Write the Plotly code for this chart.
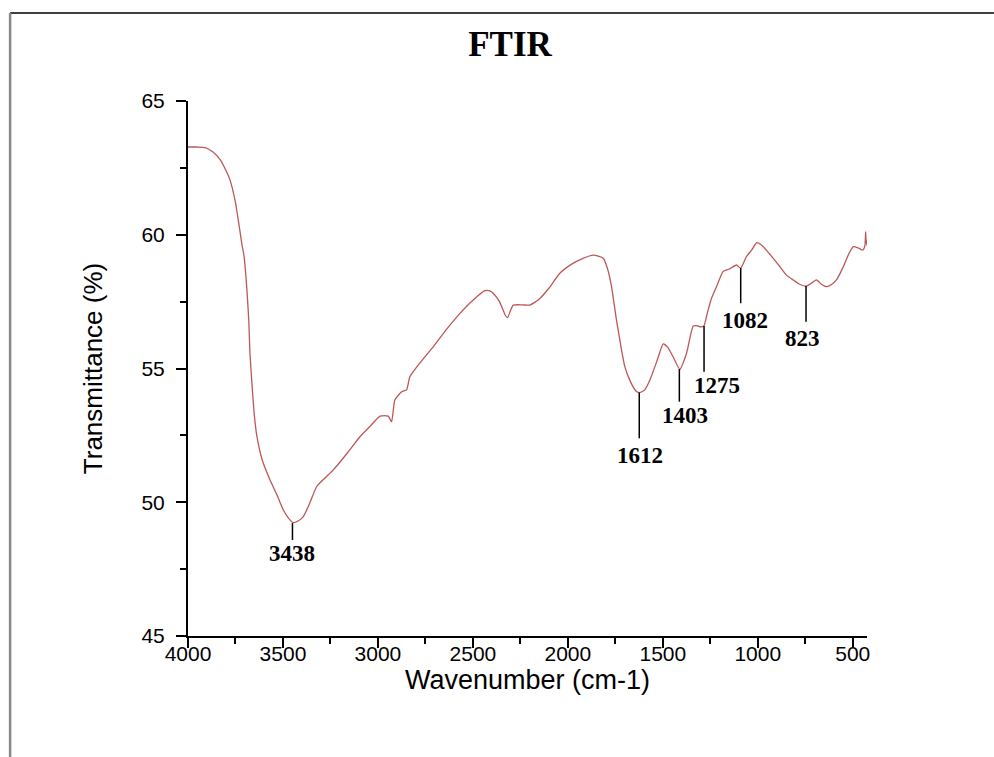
import plotly.graph_objects as go

# ---- data ----
wavenumber = [4000, 3950, 3910, 3870, 3830, 3800, 3779, 3750, 3730, 3717, 3705, 3691, 3680, 3674,
              3660, 3650, 3638, 3610, 3568, 3530, 3498, 3470, 3446, 3420, 3393, 3360, 3323, 3280,
              3235, 3160, 3095, 3040, 2989, 2946, 2928, 2911, 2875, 2849, 2832, 2780, 2709, 2640,
              2568, 2500, 2437, 2410, 2393, 2360, 2330, 2318, 2300, 2288, 2240, 2200, 2150, 2100,
              2042, 1980, 1920, 1867, 1840, 1814, 1790, 1770, 1744, 1720, 1700, 1670, 1640, 1621,
              1595, 1568, 1530, 1498, 1475, 1446, 1411, 1375, 1340, 1320, 1305, 1284, 1265, 1244,
              1215, 1183, 1150, 1112, 1091, 1060, 1030, 1007, 981, 940, 884, 850, 814, 780, 744,
              715, 691, 665, 638, 610, 586, 550, 520, 498, 470, 446, 436, 432, 430, 428, 425]
transmittance = [63.28, 63.28, 63.26, 63.1, 62.8, 62.4, 62.05, 61.2, 60.3, 59.68, 59.2, 58.06, 56.8, 55.58,
                 54.1, 53.2, 52.5, 51.6, 50.83, 50.25, 49.71, 49.4, 49.24, 49.3, 49.46, 49.95, 50.58, 50.9,
                 51.21, 51.85, 52.45, 52.85, 53.22, 53.22, 53.01, 53.82, 54.13, 54.2, 54.69, 55.2, 55.81, 56.45,
                 57.06, 57.55, 57.91, 57.9, 57.81, 57.5, 57.0, 56.9, 57.2, 57.37, 57.38, 57.37, 57.6, 58.0,
                 58.56, 58.9, 59.12, 59.24, 59.2, 59.12, 58.7, 58.06, 56.81, 55.8, 55.07, 54.5, 54.15, 54.1,
                 54.2, 54.57, 55.3, 55.92, 55.8, 55.44, 54.97, 55.57, 56.59, 56.6, 56.56, 56.59, 57.1, 57.62,
                 58.1, 58.62, 58.72, 58.87, 58.75, 59.18, 59.45, 59.7, 59.62, 59.3, 58.81, 58.5, 58.31, 58.15, 58.08,
                 58.2, 58.31, 58.15, 58.06, 58.15, 58.31, 58.8, 59.3, 59.55, 59.5, 59.43, 59.6, 60.11, 59.8, 59.74, 59.6]

peak_labels = ["3438", "1612", "1403", "1275", "1082", "823"]
peak_x = [3450, 1624, 1413, 1283, 1090, 746]
peak_top = [49.22, 54.10, 54.98, 56.59, 58.76, 58.08]
peak_bottom = [48.59, 52.39, 53.76, 54.88, 57.44, 56.75]
label_x = [3455, 1620, 1383, 1216, 1068, 762]
label_y = [48.10, 51.73, 53.26, 54.38, 56.81, 56.14]

x_ticks = [4000, 3500, 3000, 2500, 2000, 1500, 1000, 500]
y_ticks = [45, 50, 55, 60, 65]

fig = go.Figure()
fig.add_trace(go.Scatter(x=wavenumber, y=transmittance, mode="lines",
                         line=dict(color="#bd5757", width=1.3, shape="spline", smoothing=0.5),
                         showlegend=False, hoverinfo="skip"))

for lbl, px_, t0, t1, lx, ly in zip(peak_labels, peak_x, peak_top, peak_bottom, label_x, label_y):
    fig.add_shape(type="line", xref="x", yref="y", x0=px_, x1=px_, y0=t0, y1=t1,
                  line=dict(color="black", width=1.5))
    fig.add_annotation(x=lx, y=ly, xref="x", yref="y", text=lbl, showarrow=False,
                       font=dict(family="Liberation Serif, Times New Roman, serif", size=23,
                                 color="black", weight="bold"),
                       xanchor="center", yanchor="middle")

# page frame
fig.add_shape(type="line", xref="paper", yref="paper", x0=-0.262, x1=1.187, y0=1.1645, y1=1.1645,
              line=dict(color="black", width=1.5))
fig.add_shape(type="line", xref="paper", yref="paper", x0=-0.262, x1=-0.262, y0=1.1645, y1=-0.23,
              line=dict(color="#888888", width=2.5))

tickfont = dict(family="Liberation Sans, Arial, sans-serif", size=21, color="black")
fig.update_layout(
    width=994, height=757,
    margin=dict(l=188, r=127, t=101, b=121),
    paper_bgcolor="white", plot_bgcolor="white",
    title=dict(text="FTIR", x=510 / 994, xref="container", xanchor="center",
               y=1 - 44 / 757, yref="container", yanchor="middle",
               font=dict(family="Liberation Serif, Times New Roman, serif", size=35,
                         color="black", weight="bold")),
    xaxis=dict(range=[4000, 425], tickmode="array", tickvals=x_ticks,
               ticktext=[str(v) for v in x_ticks],
               showline=True, linecolor="black", linewidth=2, mirror=False,
               ticks="outside", ticklen=10, tickwidth=2, tickcolor="black",
               ticklabelstandoff=-12,
               minor=dict(ticks="outside", ticklen=6, tickwidth=2, tickcolor="black",
                          tick0=0, dtick=250, showgrid=False),
               showgrid=False, zeroline=False, tickfont=tickfont,
               title=dict(text="Wavenumber (cm-1)", standoff=2,
                          font=dict(family="Liberation Sans, Arial, sans-serif", size=27, color="black"))),
    yaxis=dict(range=[45, 65], tickmode="array", tickvals=y_ticks,
               showline=True, linecolor="black", linewidth=2, mirror=False,
               ticks="outside", ticklen=10, tickwidth=2, tickcolor="black",
               ticklabelstandoff=7,
               minor=dict(ticks="outside", ticklen=6, tickwidth=2, tickcolor="black",
                          tick0=45, dtick=2.5, showgrid=False),
               showgrid=False, zeroline=False, tickfont=tickfont,
               title=dict(text="Transmittance (%)", standoff=31,
                          font=dict(family="Liberation Sans, Arial, sans-serif", size=26, color="black"))),
)

fig.write_html("out.html")
